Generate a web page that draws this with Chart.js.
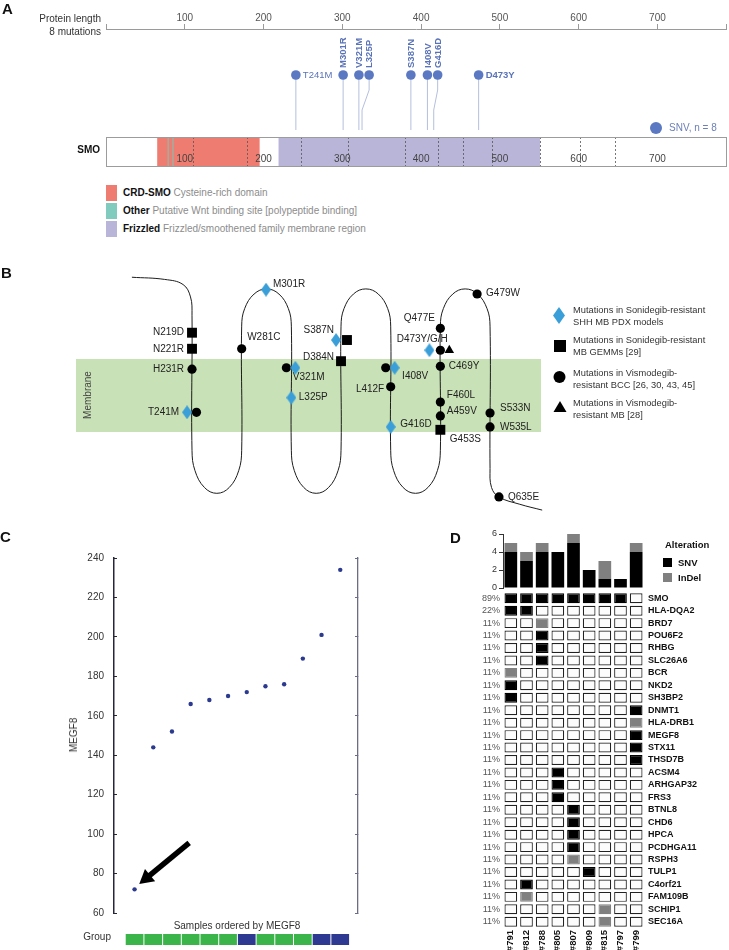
<!DOCTYPE html>
<html>
<head>
<meta charset="utf-8">
<script src="https://cdn.jsdelivr.net/npm/chart.js@4.4.1/dist/chart.umd.min.js"></script>
<style>
  html, body { margin: 0; padding: 0; background: #fff; }
  #page { position: relative; width: 729px; height: 950px; overflow: hidden;
          font-family: "Liberation Sans", Arial, Helvetica, sans-serif; color: #333; }
  canvas { position: absolute; }
  .t { position: absolute; white-space: nowrap; font-size: 10px; line-height: 12px; transform: translateY(-50%); }
  .r { transform: translate(-100%, -50%); }
  .c { transform: translate(-50%, -50%); }
  .v { transform: translate(-50%, -50%) rotate(-90deg); }
  .big { font-weight: bold; font-size: 15px; line-height: 16px; color: #111; }
  .b { font-weight: bold; color: #111; }
  .g { color: #8c8c8c; }
  .sw { position: absolute; }
  .leg { font-size: 9.3px; line-height: 11.5px; color: #333; }
</style>
</head>
<body>
<div id="page">
  <canvas id="chartA" width="729" height="175" style="left:0;top:0"></canvas>
  <canvas id="chartB" width="729" height="280" style="left:0;top:240px"></canvas>
  <canvas id="chartC" width="370" height="410" style="left:0;top:540px"></canvas>
  <canvas id="chartD1" width="269" height="70" style="left:460px;top:525px"></canvas>
  <canvas id="chartD2" width="269" height="360" style="left:460px;top:590px"></canvas>

  <!-- panel A texts -->
  <div class="t big" style="left:2px;top:9px">A</div>
  <div class="t r" style="left:101px;top:19px">Protein length</div>
  <div class="t r" style="left:101px;top:32px">8 mutations</div>
  <div class="t r b" style="left:100px;top:150px">SMO</div>
  <div class="sw" style="left:650px;top:122px;width:12px;height:12px;border-radius:6px;background:#5b78c2"></div>
  <div class="t" style="left:669px;top:128px;color:#6d80b8">SNV, n = 8</div>
  <div class="sw" style="left:106px;top:185px;width:11px;height:16px;background:#ef7c70"></div>
  <div class="sw" style="left:106px;top:203px;width:11px;height:16px;background:#80cbbd"></div>
  <div class="sw" style="left:106px;top:221px;width:11px;height:16px;background:#b9b5d9"></div>
  <div class="t" style="left:123px;top:193px"><span class="b">CRD-SMO</span> <span class="g">Cysteine-rich domain</span></div>
  <div class="t" style="left:123px;top:211px"><span class="b">Other</span> <span class="g">Putative Wnt binding site [polypeptide binding]</span></div>
  <div class="t" style="left:123px;top:229px"><span class="b">Frizzled</span> <span class="g">Frizzled/smoothened family membrane region</span></div>

  <!-- panel B texts -->
  <div class="t big" style="left:1px;top:273px">B</div>
  <div class="t v" style="left:88px;top:395px;color:#444">Membrane</div>
  <div class="t leg" style="left:573px;top:316px">Mutations in Sonidegib-resistant<br>SHH MB PDX models</div>
  <div class="t leg" style="left:573px;top:346px">Mutations in Sonidegib-resistant<br>MB GEMMs [29]</div>
  <div class="t leg" style="left:573px;top:379px">Mutations in Vismodegib-<br>resistant BCC [26, 30, 43, 45]</div>
  <div class="t leg" style="left:573px;top:409px">Mutations in Vismodegib-<br>resistant MB [28]</div>

  <!-- panel C texts -->
  <div class="t big" style="left:0;top:537px">C</div>
  <div class="t v" style="left:74px;top:735px">MEGF8</div>
  <div class="t c" style="left:237px;top:926px">Samples ordered by MEGF8</div>
  <div class="t r" style="left:111px;top:937px">Group</div>

  <!-- panel D texts -->
  <div class="t big" style="left:450px;top:538px">D</div>
  <div class="t b" style="left:665px;top:545px;font-size:9.5px">Alteration</div>
  <div class="sw" style="left:663px;top:558px;width:9px;height:9px;background:#000"></div>
  <div class="sw" style="left:663px;top:573px;width:9px;height:9px;background:#808080"></div>
  <div class="t b" style="left:678px;top:563px;font-size:9.5px">SNV</div>
  <div class="t b" style="left:678px;top:578px;font-size:9.5px">InDel</div>
</div>

<script>
// ---------- data ----------
// A: SMO lollipop
const protLength = 787;
const mutNames = ['T241M', 'M301R', 'V321M', 'L325P', 'S387N', 'I408V', 'G416D', 'D473Y'];
const mutPos   = [241, 301, 321, 325, 387, 408, 416, 473];
const headPos  = [241, 301, 321, 334, 387, 408, 421, 473]; // heads are pushed apart when crowded
const axisTicks = [100, 200, 300, 400, 500, 600, 700];
const domType  = ['CRD-SMO', 'Other', 'Other', 'Frizzled'];
const domStart = [65, 78, 84, 219];
const domEnd   = [195, 80, 86, 551];
const exonBounds = [110, 179, 248, 307, 380, 422, 453, 490, 551, 602, 646];

// B: topology (x = transmembrane lane, y = depth, membrane = 0..1)
const topoPath = [
  [-0.21, 2.12], [0.45, 2.09], [0.82, 2.02], [0.97, 1.85], [1, 1.6],
  [1, -0.25], [1.06, -0.53], [1.25, -0.76], [1.5, -0.84], [1.75, -0.76], [1.94, -0.53], [2, -0.25],
  [2, 1.45], [2.06, 1.69], [2.25, 1.89], [2.5, 1.96], [2.75, 1.89], [2.94, 1.69], [3, 1.45],
  [3, -0.25], [3.06, -0.53], [3.25, -0.76], [3.5, -0.84], [3.75, -0.76], [3.94, -0.53], [4, -0.25],
  [4, 1.45], [4.06, 1.69], [4.25, 1.89], [4.5, 1.96], [4.75, 1.89], [4.94, 1.69], [5, 1.45],
  [5, -0.25], [5.06, -0.53], [5.25, -0.76], [5.5, -0.84], [5.75, -0.76], [5.94, -0.53], [6, -0.25],
  [6, 1.45], [6.06, 1.69], [6.25, 1.89], [6.5, 1.96], [6.75, 1.89], [6.94, 1.69], [7, 1.45],
  [7, -0.5], [7.03, -0.76], [7.18, -0.89], [7.6, -0.99], [8.05, -1.07]
];
const pdxMarks  = [[0.90, 0.27], [2.49, 1.95], [3.08, 0.88], [3, 0.47], [3.90, 1.26], [5.08, 0.88], [5, 0.07], [5.78, 1.12]];
const gemmMarks = [[1, 1.36], [1, 1.14], [4.12, 1.26], [4, 0.97], [6, 0.03]];
const bccMarks  = [[1, 0.86], [1.09, 0.27], [2, 1.14], [2.9, 0.88], [4.9, 0.88], [5, 0.62], [6, 1.42], [6, 1.12],
                   [6, 0.90], [6, 0.41], [6, 0.22], [6.74, 1.89], [7, 0.26], [7, 0.07], [7.18, -0.89]];
const mbMarks   = [[6.18, 1.12]];
const topoLabels = ['M301R', 'N219D', 'N221R', 'H231R', 'T241M', 'W281C', 'V321M', 'L325P', 'S387N', 'D384N',
                    'I408V', 'L412F', 'G416D', 'Q477E', 'D473Y/G/H', 'C469Y', 'F460L', 'A459V', 'G453S',
                    'G479W', 'S533N', 'W535L', 'Q635E'];
const topoLabelAt = [[2.63, 2.03], [0.84, 1.37], [0.84, 1.14], [0.84, 0.86], [0.74, 0.27], [2.11, 1.30],
                     [3.03, 0.75], [3.15, 0.47], [3.86, 1.40], [3.86, 1.03], [5.23, 0.77], [4.87, 0.58],
                     [5.19, 0.10], [5.89, 1.56], [6.15, 1.27], [6.17, 0.90], [6.13, 0.51], [6.13, 0.29],
                     [6.19, -0.10], [6.92, 1.90], [7.20, 0.33], [7.20, 0.07], [7.36, -0.89]];
const topoLabelAlign = ['left', 'right', 'right', 'right', 'right', 'left', 'left', 'left', 'right', 'right',
                        'left', 'right', 'left', 'right', 'right', 'left', 'left', 'left', 'left',
                        'left', 'left', 'left', 'left'];

// C: MEGF8 expression
const megf8 = [72, 144, 152, 166, 168, 170, 172, 175, 176, 189, 201, 234];
const sampleGroup = [1, 1, 1, 1, 1, 1, 2, 1, 1, 1, 2, 2];
const megTicks = [60, 80, 100, 120, 140, 160, 180, 200, 220, 240];
const arrowTail = [2.92, 95.5];
const arrowTip  = [0.25, 74.7];

// D: oncoprint
const samples = ['#791', '#812', '#788', '#805', '#807', '#809', '#815', '#797', '#799'];
const snvCount   = [4, 3, 4, 4, 5, 2, 1, 1, 4];
const indelCount = [1, 1, 1, 0, 1, 0, 2, 0, 1];
const barTicks = [0, 2, 4, 6];
const genes = ['SMO', 'HLA-DQA2', 'BRD7', 'POU6F2', 'RHBG', 'SLC26A6', 'BCR', 'NKD2', 'SH3BP2', 'DNMT1',
               'HLA-DRB1', 'MEGF8', 'STX11', 'THSD7B', 'ACSM4', 'ARHGAP32', 'FRS3', 'BTNL8', 'CHD6', 'HPCA',
               'PCDHGA11', 'RSPH3', 'TULP1', 'C4orf21', 'FAM109B', 'SCHIP1', 'SEC16A'];
const genePct = ['89%', '22%', '11%', '11%', '11%', '11%', '11%', '11%', '11%', '11%', '11%', '11%', '11%', '11%',
                 '11%', '11%', '11%', '11%', '11%', '11%', '11%', '11%', '11%', '11%', '11%', '11%', '11%'];
// S = SNV, I = InDel, . = none (one char per sample)
const alterations = [
  'SSSSSSSS.', 'SS.......', '..I......', '..S......', '..S......', '..S......', 'I........',
  'S........', 'S........', '........S', '........I', '........S', '........S', '........S',
  '...S.....', '...S.....', '...S.....', '....S....', '....S....', '....S....', '....S....',
  '....I....', '.....S...', '.S.......', '.I.......', '......I..', '......I..'
];

// ---------- common ----------
const FONT = '"Liberation Sans", Arial, Helvetica, sans-serif';
Chart.defaults.font.family = FONT;
Chart.defaults.color = '#333';
Chart.defaults.animation = false;
Chart.defaults.responsive = false;
Chart.defaults.events = [];
Chart.defaults.plugins.legend.display = false;
Chart.defaults.plugins.tooltip.enabled = false;

const toXY = arr => arr.map(p => ({x: p[0], y: p[1]}));
const noPad = s => { s.paddingTop = 0; s.paddingBottom = 0; };

// ---------- A ----------
const HEAD_Y = 3.138, LABEL_Y = 3.38, BEND_TOP = 2.62, BEND_LOW = 1.93, STEM_END = 1.24;
const labelMode = ['h', 'v', 'v', 'v', 'v', 'v', 'v', 'hb'];
const domColor = {'CRD-SMO': '#ef7c70', 'Other': 'rgba(120,200,185,0.65)', 'Frizzled': '#b9b5d9'};

const proteinTrack = {
  id: 'proteinTrack',
  beforeDatasetsDraw(chart) {
    const {ctx} = chart, x = chart.scales.x, y = chart.scales.y;
    const X = v => x.getPixelForValue(v), Y = v => y.getPixelForValue(v);
    ctx.save();
    // stems
    ctx.strokeStyle = '#b3bfdd';
    ctx.lineWidth = 1;
    mutPos.forEach((p, i) => {
      ctx.beginPath();
      ctx.moveTo(X(headPos[i]), Y(HEAD_Y));
      ctx.lineTo(X(headPos[i]), Y(BEND_TOP));
      ctx.lineTo(X(p), Y(BEND_LOW));
      ctx.lineTo(X(p), Y(STEM_END));
      ctx.stroke();
    });
    // protein bar
    const top = Y(1), bot = Y(0);
    ctx.fillStyle = '#fff';
    ctx.fillRect(X(0), top, X(protLength) - X(0), bot - top);
    domStart.forEach((s, i) => {
      ctx.fillStyle = domColor[domType[i]];
      ctx.fillRect(X(s), top, X(domEnd[i]) - X(s), bot - top);
    });
    ctx.setLineDash([2, 2]);
    ctx.strokeStyle = '#555';
    ctx.lineWidth = 0.8;
    exonBounds.forEach(b => {
      const bx = Math.round(X(b)) + 0.5;
      ctx.beginPath(); ctx.moveTo(bx, top); ctx.lineTo(bx, bot); ctx.stroke();
    });
    ctx.setLineDash([]);
    ctx.strokeStyle = '#9c9c9c';
    ctx.lineWidth = 1;
    ctx.strokeRect(Math.round(X(0)) + 0.5, Math.round(top) + 0.5, Math.round(X(protLength) - X(0)), Math.round(bot - top));
    ctx.fillStyle = '#444';
    ctx.font = '10px ' + FONT;
    ctx.textAlign = 'center';
    ctx.textBaseline = 'middle';
    axisTicks.forEach(t => ctx.fillText(t, X(t), Y(0.24)));
    ctx.restore();
  },
  afterDatasetsDraw(chart) {
    const {ctx} = chart, x = chart.scales.x, y = chart.scales.y;
    ctx.save();
    ctx.fillStyle = '#5a73b8';
    ctx.textBaseline = 'middle';
    mutNames.forEach((n, i) => {
      const hx = x.getPixelForValue(headPos[i]);
      if (labelMode[i] === 'v') {
        ctx.save();
        ctx.translate(hx + 0.5, y.getPixelForValue(LABEL_Y));
        ctx.rotate(-Math.PI / 2);
        ctx.font = 'bold 9.5px ' + FONT;
        ctx.textAlign = 'left';
        ctx.fillText(n, 0, 0);
        ctx.restore();
      } else {
        ctx.font = (labelMode[i] === 'hb' ? 'bold ' : '') + '9.5px ' + FONT;
        ctx.textAlign = 'left';
        ctx.fillText(n, hx + 7, y.getPixelForValue(HEAD_Y));
      }
    });
    ctx.restore();
  }
};

new Chart(document.getElementById('chartA'), {
  type: 'scatter',
  data: {
    datasets: [{
      data: headPos.map(h => ({x: h, y: HEAD_Y})),
      pointRadius: 4.8,
      pointBackgroundColor: '#5b78c2',
      pointBorderWidth: 0
    }]
  },
  options: {
    layout: { autoPadding: false, padding: { left: 106, right: 3, top: 0, bottom: 9 } },
    scales: {
      x: {
        type: 'linear', position: 'top', min: 0, max: protLength,
        afterBuildTicks: s => { s.ticks = [0, ...axisTicks, protLength].map(v => ({value: v})); },
        afterFit: s => { s.height = 29; },
        grid: { drawOnChartArea: false, tickLength: 5, color: '#9a9a9a' },
        border: { color: '#9a9a9a' },
        ticks: { font: { size: 10 }, color: '#555', padding: 0, maxRotation: 0, autoSkip: false,
                 callback: v => axisTicks.includes(v) ? v : '' }
      },
      y: { min: 0, max: 4.724, display: false }
    }
  },
  plugins: [proteinTrack]
});

// ---------- B ----------
function diamondImg(w, h, color) {
  const c = document.createElement('canvas');
  c.width = w; c.height = h;
  const g = c.getContext('2d');
  g.fillStyle = color;
  g.beginPath();
  g.moveTo(w / 2, 0); g.lineTo(w, h / 2); g.lineTo(w / 2, h); g.lineTo(0, h / 2);
  g.closePath(); g.fill();
  return c;
}
const DIAMOND = '#3a9fd8';
const membraneLane = [-1.335, 8.026];

const topologyPlugin = {
  id: 'topology',
  beforeDatasetsDraw(chart) {
    const {ctx} = chart, x = chart.scales.x, y = chart.scales.y;
    ctx.save();
    const l = x.getPixelForValue(membraneLane[0]), r = x.getPixelForValue(membraneLane[1]);
    const t = y.getPixelForValue(1), b = y.getPixelForValue(0);
    ctx.fillStyle = '#c8e1b6';
    ctx.fillRect(l, t, r - l, b - t);
    ctx.font = '10px ' + FONT;
    ctx.fillStyle = '#222';
    ctx.textBaseline = 'middle';
    topoLabels.forEach((s, i) => {
      ctx.textAlign = topoLabelAlign[i];
      ctx.fillText(s, x.getPixelForValue(topoLabelAt[i][0]), y.getPixelForValue(topoLabelAt[i][1]));
    });
    ctx.restore();
  },
  afterDraw(chart) {
    // legend symbols
    const {ctx} = chart;
    ctx.save();
    ctx.drawImage(diamondImg(12, 17, DIAMOND), 553, 67);
    ctx.fillStyle = '#000';
    ctx.fillRect(554, 100, 12, 12);
    ctx.beginPath(); ctx.arc(559.5, 137, 6, 0, Math.PI * 2); ctx.fill();
    ctx.beginPath(); ctx.moveTo(560, 161); ctx.lineTo(566.5, 172); ctx.lineTo(553.5, 172); ctx.closePath(); ctx.fill();
    ctx.restore();
  }
};

new Chart(document.getElementById('chartB'), {
  type: 'scatter',
  data: {
    datasets: [
      { data: toXY(pdxMarks), pointStyle: diamondImg(10, 14, DIAMOND), pointRadius: 5 },
      { data: toXY(gemmMarks), pointStyle: 'rect', pointRadius: 7, pointBackgroundColor: '#000', pointBorderWidth: 0 },
      { data: toXY(bccMarks), pointStyle: 'circle', pointRadius: 4.6, pointBackgroundColor: '#000', pointBorderWidth: 0 },
      { data: toXY(mbMarks), pointStyle: 'triangle', pointRadius: 5.5, pointBackgroundColor: '#000', pointBorderWidth: 0 },
      { type: 'line', data: toXY(topoPath), tension: 0.4, borderColor: '#1c1c1c', borderWidth: 1,
        pointRadius: 0, fill: false, order: 10 }
    ]
  },
  options: {
    layout: { autoPadding: false, padding: 0 },
    scales: {
      x: { min: -2.8655, max: 11.811, display: false },
      y: { min: -1.2055, max: 2.63, display: false }
    }
  },
  plugins: [topologyPlugin]
});

// ---------- C ----------
const groupColor = {1: '#3bb44a', 2: '#2e3a92'};
const megExtras = {
  id: 'megExtras',
  afterDatasetsDraw(chart) {
    const {ctx, chartArea} = chart, x = chart.scales.x, y = chart.scales.y;
    ctx.save();
    // arrow
    const x0 = x.getPixelForValue(arrowTail[0]), y0 = y.getPixelForValue(arrowTail[1]);
    const x1 = x.getPixelForValue(arrowTip[0]), y1 = y.getPixelForValue(arrowTip[1]);
    const a = Math.atan2(y1 - y0, x1 - x0), hl = 14, hw = 8;
    const bx = x1 - hl * Math.cos(a), by = y1 - hl * Math.sin(a);
    ctx.strokeStyle = '#000';
    ctx.lineWidth = 5.5;
    ctx.beginPath(); ctx.moveTo(x0, y0); ctx.lineTo(bx + 2 * Math.cos(a), by + 2 * Math.sin(a)); ctx.stroke();
    ctx.fillStyle = '#000';
    ctx.beginPath();
    ctx.moveTo(x1, y1);
    ctx.lineTo(bx + hw * Math.sin(a), by - hw * Math.cos(a));
    ctx.lineTo(bx - hw * Math.sin(a), by + hw * Math.cos(a));
    ctx.closePath(); ctx.fill();
    // group strip
    const w = x.getPixelForValue(1) - x.getPixelForValue(0);
    const top = chartArea.bottom + 21;
    sampleGroup.forEach((g, i) => {
      ctx.fillStyle = groupColor[g];
      ctx.fillRect(x.getPixelForValue(i) - w / 2 + 0.5, top, w - 1, 11);
    });
    ctx.restore();
  }
};

new Chart(document.getElementById('chartC'), {
  type: 'scatter',
  data: {
    datasets: [{
      data: megf8.map((v, i) => ({x: i, y: v})),
      pointRadius: 2.2,
      pointBackgroundColor: '#2b3a8f',
      pointBorderWidth: 0
    }]
  },
  options: {
    layout: { autoPadding: false, padding: { top: 18, bottom: 37, left: 0, right: 0 } },
    scales: {
      x: { type: 'linear', min: -1.1, max: 11.95, display: false },
      y: {
        min: 60, max: 240, position: 'left',
        afterBuildTicks: s => { s.ticks = megTicks.map(v => ({value: v})); },
        afterFit: s => { s.width = 114; noPad(s); },
        ticks: { font: { size: 10 }, color: '#333', padding: 13 },
        grid: { drawOnChartArea: false, tickLength: -3, color: '#26263a' },
        border: { color: '#26263a', width: 1.5 }
      },
      y2: {
        min: 60, max: 240, position: 'right',
        afterBuildTicks: s => { s.ticks = megTicks.map(v => ({value: v})); },
        afterFit: s => { s.width = 12; noPad(s); },
        ticks: { display: false },
        grid: { drawOnChartArea: false, tickLength: -3, color: '#6a6d86' },
        border: { color: '#6a6d86', width: 1.3 }
      }
    }
  },
  plugins: [megExtras]
});

// ---------- D ----------
new Chart(document.getElementById('chartD1'), {
  type: 'bar',
  data: {
    labels: samples,
    datasets: [
      { label: 'SNV', data: snvCount, backgroundColor: '#000' },
      { label: 'InDel', data: indelCount, backgroundColor: '#808080' }
    ]
  },
  options: {
    barPercentage: 0.81,
    categoryPercentage: 1,
    layout: { padding: { top: 9, bottom: 7, left: 0, right: 85 } },
    scales: {
      x: { stacked: true, display: false },
      y: {
        stacked: true, min: 0, max: 6,
        afterBuildTicks: s => { s.ticks = barTicks.map(v => ({value: v})); },
        afterFit: s => { s.width = 43; noPad(s); },
        ticks: { font: { size: 9 }, color: '#333', padding: 2 },
        grid: { drawOnChartArea: false, tickLength: 4, color: '#333' },
        border: { color: '#333' }
      }
    }
  }
});

const cellFill   = {S: '#000', I: '#808080', '.': '#fcfcfc'};
const cellBorder = {S: '#000', I: '#808080', '.': '#222'};

new Chart(document.getElementById('chartD2'), {
  type: 'bar',
  data: {
    labels: samples,
    datasets: genes.map((g, r) => ({
      label: g,
      data: samples.map(() => [r + 0.1, r + 0.9]),
      backgroundColor: alterations[r].split('').map(c => cellFill[c]),
      borderColor: alterations[r].split('').map(c => cellBorder[c]),
      borderWidth: 1.2,
      borderSkipped: false,
      grouped: false,
      yAxisID: 'y'
    }))
  },
  options: {
    barPercentage: 0.81,
    categoryPercentage: 1,
    layout: { padding: { top: 2, bottom: 0, left: 0, right: 0 } },
    scales: {
      x: {
        type: 'category', position: 'bottom',
        afterFit: s => { s.height = 22; s.paddingLeft = 0; s.paddingRight = 0; },
        grid: { display: false, drawTicks: false }, border: { display: false },
        ticks: { autoSkip: false, minRotation: 90, maxRotation: 90, padding: 2,
                 font: { size: 9.5, weight: 'bold' }, color: '#111' }
      },
      y: { type: 'linear', min: 0, max: genes.length, reverse: true, display: false },
      yPct: {
        type: 'category', labels: genePct, position: 'left', offset: true,
        afterFit: s => { s.width = 43; noPad(s); },
        grid: { display: false, drawTicks: false }, border: { display: false },
        ticks: { autoSkip: false, font: { size: 9 }, color: '#555', padding: 3 }
      },
      yGene: {
        type: 'category', labels: genes, position: 'right', offset: true,
        afterFit: s => { s.width = 85; noPad(s); },
        grid: { display: false, drawTicks: false }, border: { display: false },
        ticks: { autoSkip: false, font: { size: 9, weight: 'bold' }, color: '#111', padding: 4 }
      }
    }
  }
});
</script>
</body>
</html>
